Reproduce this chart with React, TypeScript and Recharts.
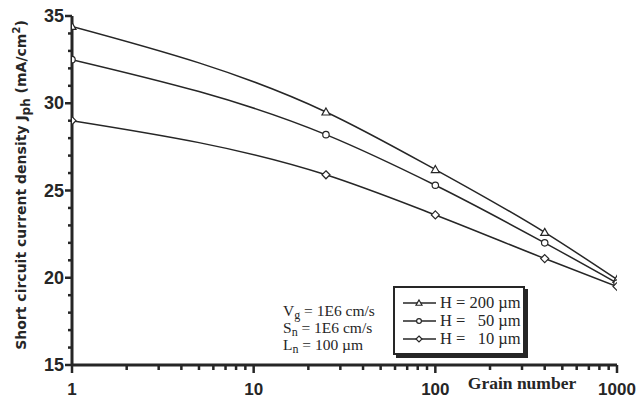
import React from 'react'
import { LineChart, Line, XAxis, YAxis } from 'recharts'

const grains = [1, 25, 100, 400, 1000]
const h200 = [34.4, 29.5, 26.2, 22.6, 19.9]
const h50 = [32.5, 28.2, 25.3, 22.0, 19.7]
const h10 = [29.0, 25.9, 23.6, 21.1, 19.5]
const seriesNames = ['H = 200 µm', 'H =   50 µm', 'H =   10 µm']
const xTicks = [1, 2, 3, 4, 5, 6, 7, 8, 9, 10, 20, 30, 40, 50, 60, 70, 80, 90, 100, 200, 300, 400, 500, 600, 700, 800, 900, 1000]
const xLabels = [1, 10, 100, 1000]
const yTicks = [15, 16, 17, 18, 19, 20, 21, 22, 23, 24, 25, 26, 27, 28, 29, 30, 31, 32, 33, 34, 35]
const notes = [['V', 'g', ' = 1E6 cm/s'], ['S', 'n', ' = 1E6 cm/s'], ['L', 'n', ' = 100 µm']]

const data = grains.map((g, i) => ({ g, a: h200[i], b: h50[i], c: h10[i] }))

const ink = '#262626'
const sans = '"Liberation Sans", Arial, sans-serif'
const serif = '"Liberation Serif", "Times New Roman", serif'

const Marker = ({ kind, cx, cy, s = 4 }: { kind: string; cx: number; cy: number; s?: number }) => {
    if (kind === 'tri') {
        return <path d={`M${cx},${cy - s} L${cx + s},${cy + s * 0.75} L${cx - s},${cy + s * 0.75} Z`} fill="#fff" stroke={ink} strokeWidth={1.2} />
    }
    if (kind === 'dia') {
        return <path d={`M${cx},${cy - s} L${cx + s},${cy} L${cx},${cy + s} L${cx - s},${cy} Z`} fill="#fff" stroke={ink} strokeWidth={1.2} />
    }
    return <circle cx={cx} cy={cy} r={s * 0.8} fill="#fff" stroke={ink} strokeWidth={1.2} />
}

const kinds = ['tri', 'circ', 'dia']

const dotFor = (kind: string) => (p: any) => <Marker key={`${kind}-${p.index}`} kind={kind} cx={p.cx} cy={p.cy} />

// tickSize and tickMargin are 0, so x/y arrive on the axis line itself
const XTick = (p: any) => {
    const v = p.payload.value
    const major = xLabels.includes(v)
    return (
        <g>
            <rect x={p.x - 1.25} y={p.y} width={2.5} height={major ? 8 : 5} fill={ink} />
            {major && (
                <text x={p.x} y={p.y + 30} textAnchor="middle" fontFamily={sans} fontWeight="bold" fontSize={17} fill={ink}>
                    {v}
                </text>
            )}
        </g>
    )
}

const YTick = (p: any) => {
    const v = p.payload.value
    const major = v % 5 === 0
    const len = major ? 7 : 4
    return (
        <g>
            <rect x={p.x - len} y={p.y - 1.25} width={len} height={2.5} fill={ink} />
            {major && (
                <text x={p.x - 8} y={p.y + 6} textAnchor="end" fontFamily={sans} fontWeight="bold" fontSize={18} fill={ink}>
                    {v}
                </text>
            )}
        </g>
    )
}

const YTitle = () => (
    <text transform="translate(26,185) rotate(-90)" textAnchor="middle" fontFamily='"DejaVu Sans", sans-serif' fontWeight="bold" fontSize={14} fill={ink}>
        Short circuit current density J
        <tspan dy={4} fontSize={12}>ph</tspan>
        <tspan dy={-4}> (mA/cm</tspan>
        <tspan dy={-6} fontSize={10}>2</tspan>
        <tspan dy={6}>)</tspan>
    </text>
)

const XTitle = () => (
    <text x={522} y={389} textAnchor="middle" fontFamily={serif} fontWeight="bold" fontSize={17.5} fill={ink}>
        Grain number
    </text>
)

const LegendBox = () => (
    <div style={{ position: 'absolute', left: 393, top: 286, width: 135, height: 72 }}>
        <div style={{ position: 'absolute', left: 3, top: 3, width: 132, height: 69, background: ink }} />
        <div style={{ position: 'absolute', left: 0, top: 0, width: 128, height: 65, border: `2px solid ${ink}`, background: '#fff' }}>
            {seriesNames.map((name, i) => (
                <div key={name} style={{ display: 'flex', alignItems: 'center', height: 18, marginTop: i === 0 ? 6 : 0 }}>
                    <svg width={34} height={12} style={{ marginLeft: 8 }}>
                        <line x1={0} x2={33} y1={6} y2={6} stroke={ink} strokeWidth={1.5} />
                        <Marker kind={kinds[i]} cx={16} cy={6} s={3} />
                    </svg>
                    <span style={{ fontFamily: serif, fontSize: 16.5, color: ink, whiteSpace: 'pre', marginLeft: 3 }}>{name}</span>
                </div>
            ))}
        </div>
    </div>
)

const App = () => {
    return (
        <div style={{ position: 'relative', width: 637, height: 398, background: '#fff' }}>
            <style>{'body{margin:0;background:#fff}'}</style>
            <LineChart width={637} height={398} data={data} margin={{ top: 16, right: 20, bottom: 0, left: 0 }}>
                <XAxis
                    dataKey="g"
                    type="number"
                    scale="log"
                    domain={[1, 1000]}
                    ticks={xTicks}
                    interval={0}
                    tick={XTick}
                    tickLine={false}
                    tickSize={0}
                    tickMargin={0}
                    height={33}
                    stroke={ink}
                    strokeWidth={3}
                    allowDataOverflow
                />
                <YAxis
                    type="number"
                    domain={[15, 35]}
                    ticks={yTicks}
                    interval={0}
                    tick={YTick}
                    tickLine={false}
                    tickSize={0}
                    tickMargin={0}
                    width={72}
                    stroke={ink}
                    strokeWidth={3}
                />
                <Line name={seriesNames[0]} dataKey="a" type="monotone" stroke={ink} strokeWidth={1.5} dot={dotFor('tri')} isAnimationActive={false} />
                <Line name={seriesNames[1]} dataKey="b" type="monotone" stroke={ink} strokeWidth={1.5} dot={dotFor('circ')} isAnimationActive={false} />
                <Line name={seriesNames[2]} dataKey="c" type="monotone" stroke={ink} strokeWidth={1.5} dot={dotFor('dia')} isAnimationActive={false} />
                <YTitle />
                <XTitle />
            </LineChart>
            <LegendBox />
            <div style={{ position: 'absolute', left: 283, top: 302, fontFamily: serif, fontSize: 15.5, lineHeight: '17px', color: ink }}>
                {notes.map(([a, s, rest]) => (
                    <div key={a + s}>
                        {a}
                        <sub style={{ fontSize: 12, verticalAlign: '-3px', lineHeight: 0 }}>{s}</sub>
                        {rest}
                    </div>
                ))}
            </div>
        </div>
    )
}

export default App
